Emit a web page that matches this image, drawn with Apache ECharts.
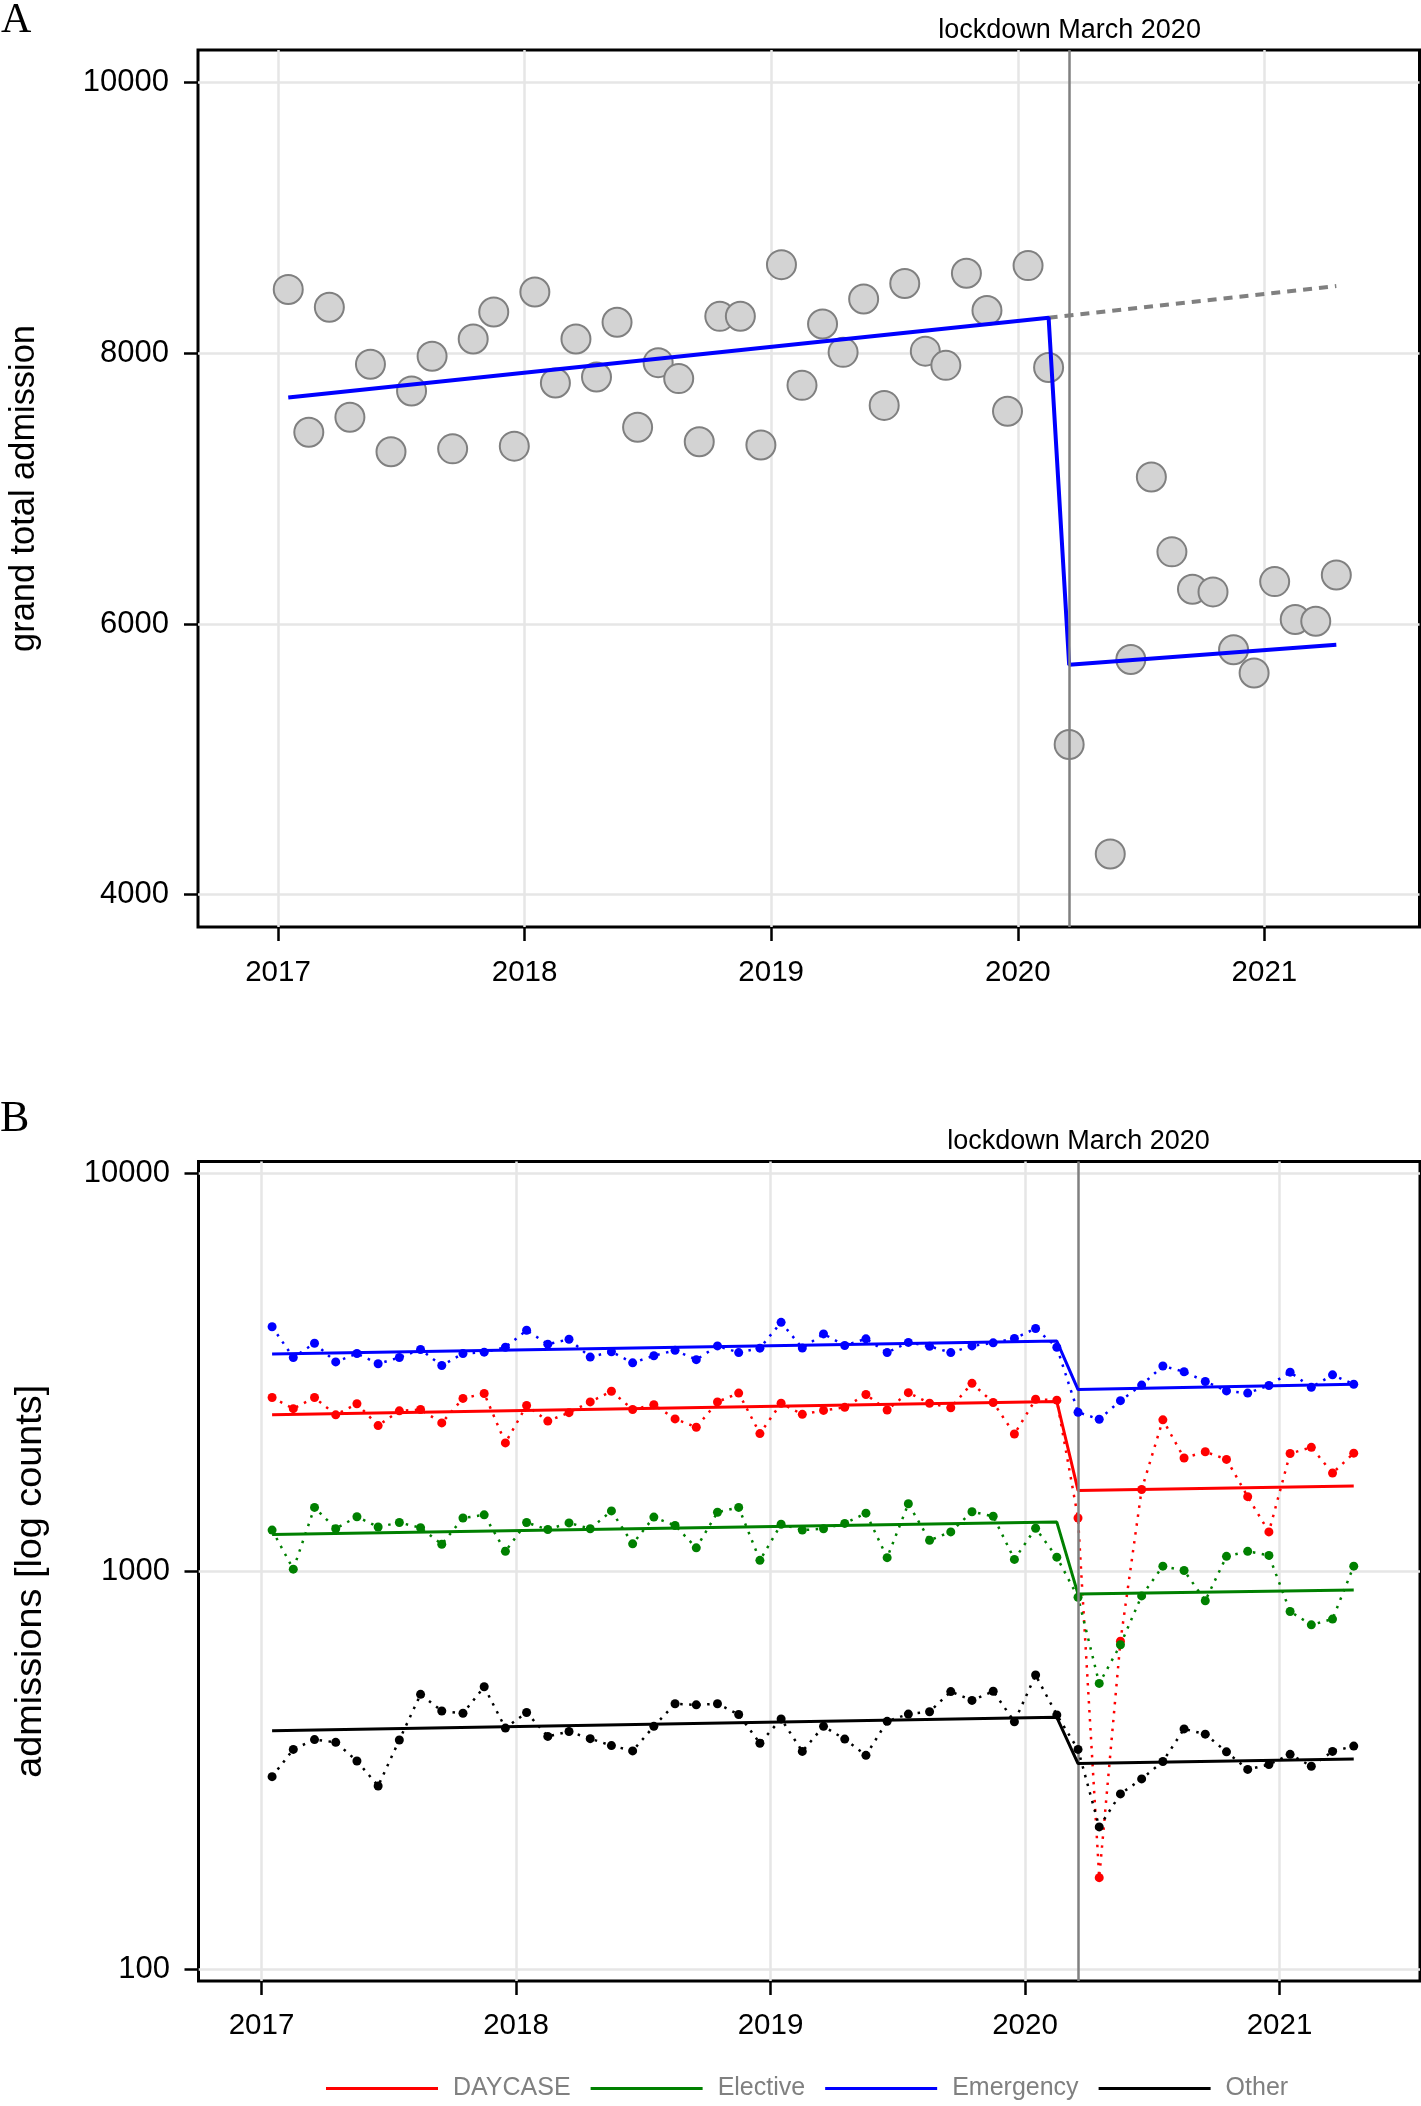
<!DOCTYPE html>
<html><head><meta charset="utf-8">
<script src="https://cdn.jsdelivr.net/npm/echarts@6/dist/echarts.min.js"></script>
<style>html,body{margin:0;padding:0;background:#fff}#c{width:1421px;height:2106px}</style>
</head><body><div id="c"></div>
<script>
// ---------------- DATA ----------------
const months = ['2017-01','2017-02','2017-03','2017-04','2017-05','2017-06','2017-07','2017-08','2017-09','2017-10','2017-11','2017-12',
  '2018-01','2018-02','2018-03','2018-04','2018-05','2018-06','2018-07','2018-08','2018-09','2018-10','2018-11','2018-12',
  '2019-01','2019-02','2019-03','2019-04','2019-05','2019-06','2019-07','2019-08','2019-09','2019-10','2019-11','2019-12',
  '2020-01','2020-02','2020-03','2020-04','2020-05','2020-06','2020-07','2020-08','2020-09','2020-10','2020-11','2020-12',
  '2021-01','2021-02','2021-03','2021-04'];

// Panel A: grand total admissions (Apr 2020 lies below the plotted range)
const totalAdmissions = [8472,7417,8340,7528,7919,7272,7722,7978,7294,8106,8305,7314,
  8453,7781,8106,7825,8229,7454,7931,7813,7347,8273,8274,7322,
  8655,7763,8217,8007,8401,7615,8516,8016,7911,8592,8316,7572,
  8648,7895,5109,null,4300,5737,7086,6533,6257,6237,5810,5638,
  6313,6033,6020,6362];
const fitMonths = ['2017-01','2020-02','2020-03','2021-04'];
const totalFit = [7673, 8263, 5698, 5846];
const counterfactualMonths = ['2020-02','2021-04'];
const totalCounterfactual = [8263, 8497];

// Panel B: admissions by type (log scale)
const daycase = [2735,2564,2735,2474,2638,2325,2532,2551,2361,2721,2799,2103,
  2611,2386,2506,2666,2835,2551,2624,2417,2302,2666,2806,2220,
  2645,2481,2538,2584,2784,2545,2813,2645,2577,2969,2658,2214,
  2707,2693,1362,170,668,1606,2404,1927,1998,1912,1541,1257,
  1978,2050,1766,1982];
const elective = [1270,1013,1448,1280,1372,1293,1327,1287,1170,1362,1387,1123,
  1327,1274,1324,1280,1419,1173,1369,1304,1146,1408,1448,1066,
  1314,1270,1280,1320,1401,1083,1479,1197,1257,1412,1376,1072,
  1284,1086,861,523,654,868,1031,1005,844,1091,1123,1097,
  793,734,759,1031];
const emergency = [4118,3447,3744,3360,3528,3325,3447,3611,3291,3528,3556,3658,
  4035,3724,3831,3456,3565,3343,3483,3593,3404,3686,3547,3639,
  4225,3640,3952,3695,3840,3547,3762,3677,3547,3686,3752,3850,
  4076,3658,2512,2411,2686,2939,3283,3175,3001,2842,2806,2932,
  3167,2901,3118,2954];
const other = [305,357,378,372,334,289,377,491,446,440,513,404,
  442,385,396,380,365,354,408,465,462,465,437,370,
  426,353,408,379,345,420,438,444,499,474,500,419,
  549,436,357,228,276,301,333,402,390,352,318,327,
  347,324,353,364];
const daycaseFit = [2474, 2673, 1598, 1639];
const electiveFit = [1238, 1330, 877, 898];
const emergencyFit = [3519, 3792, 2864, 2954];
const otherFit = [398, 430, 329, 338];

const categoryNames = ['DAYCASE','Elective','Emergency','Other'];
const categoryColors = ['#ff0000','#008000','#0000ff','#000000'];

const yearTicks = [2017, 2018, 2019, 2020, 2021];
const totalTicks = [4000, 6000, 8000, 10000];
const logTicks = [100, 1000, 10000];
const lockdownMonth = '2020-03';
const lockdownLabel = 'lockdown March 2020';

// ---------------- HELPERS ----------------
const X = m => { const p = m.split('-').map(Number); return p[0] + (p[1] - 0.5) / 12; };
const pairs = (ms, vals) => ms.map((m, i) => [X(m), vals[i]]).filter(d => d[1] != null);
const FONT = 'Liberation Sans, Arial, sans-serif';

function xAxisDef(grid, min, max, margin) {
  return {
    type: 'value', gridIndex: grid, min: min, max: max,
    axisLine: {show: false},
    axisTick: {show: true, customValues: yearTicks, length: 14, lineStyle: {color: '#000', width: 2.5}},
    axisLabel: {customValues: yearTicks, color: '#000', fontSize: 29.5, fontFamily: FONT, margin: margin,
      formatter: v => String(Math.round(v))},
    splitLine: {show: true, lineStyle: {color: '#e6e6e6', width: 2.5}}
  };
}
function lockdownMarkLine() {
  return {
    symbol: 'none', silent: true, animation: false,
    lineStyle: {color: '#808080', width: 2.5, type: 'solid'},
    label: {show: true, position: 'end', formatter: lockdownLabel, color: '#000', fontSize: 27, fontFamily: FONT, distance: 6},
    data: [{xAxis: X(lockdownMonth)}]
  };
}

const seriesB = [];
const obsB = [daycase, elective, emergency, other];
const fitB = [daycaseFit, electiveFit, emergencyFit, otherFit];
categoryNames.forEach((name, k) => {
  seriesB.push({
    name: name + ' observed', type: 'line', xAxisIndex: 1, yAxisIndex: 1,
    data: pairs(months, obsB[k]), symbol: 'circle', symbolSize: 9, showAllSymbol: true,
    itemStyle: {color: categoryColors[k]},
    lineStyle: {color: categoryColors[k], width: 2.5, type: [2.5, 6.5]},
    z: 3 + k, animation: false
  });
  seriesB.push({
    name: name, type: 'line', xAxisIndex: 1, yAxisIndex: 1,
    data: pairs(fitMonths, fitB[k]), symbol: 'none',
    itemStyle: {color: categoryColors[k]},
    lineStyle: {color: categoryColors[k], width: 3},
    z: 3 + k, animation: false
  });
});
seriesB[0].markLine = lockdownMarkLine();

const option = {
  animation: false,
  textStyle: {fontFamily: FONT},
  grid: [
    {left: 197.5, top: 50, width: 1222, height: 877, show: true, borderColor: '#000', borderWidth: 3, backgroundColor: 'transparent', containLabel: false},
    {left: 198.5, top: 1161.5, width: 1221.5, height: 819.5, show: true, borderColor: '#000', borderWidth: 3, backgroundColor: 'transparent', containLabel: false}
  ],
  xAxis: [xAxisDef(0, 2016.6757, 2021.629, 31), xAxisDef(1, 2016.7525, 2021.552, 30)],
  yAxis: [
    {
      type: 'value', gridIndex: 0, min: 3761, max: 10241,
      name: 'grand total admission', nameLocation: 'middle', nameGap: 156,
      nameTextStyle: {color: '#000', fontSize: 34.4, fontFamily: FONT},
      axisLine: {show: false},
      axisTick: {show: true, customValues: totalTicks, length: 14, lineStyle: {color: '#000', width: 2.5}},
      axisLabel: {customValues: totalTicks, color: '#000', fontSize: 31, fontFamily: FONT, margin: 29, formatter: v => String(Math.round(v))},
      splitLine: {show: true, lineStyle: {color: '#e6e6e6', width: 2.5}}
    },
    {
      type: 'log', logBase: 10, gridIndex: 1, min: 93.5, max: 10715,
      name: 'admissions [log counts]', nameLocation: 'middle', nameGap: 149,
      nameTextStyle: {color: '#000', fontSize: 37.8, fontFamily: FONT, padding: [0, 20, 0, 0]},
      axisLine: {show: false},
      axisTick: {show: true, customValues: logTicks, length: 14, lineStyle: {color: '#000', width: 2.5}},
      axisLabel: {customValues: logTicks, color: '#000', fontSize: 31, fontFamily: FONT, margin: 28.5, formatter: v => String(Math.round(v))},
      splitLine: {show: true, lineStyle: {color: '#e6e6e6', width: 2.5}}
    }
  ],
  legend: {
    data: categoryNames, left: 326, top: 2076, padding: 0, itemGap: 20, icon: 'rect', itemWidth: 112, itemHeight: 3,
    textStyle: {color: '#808080', fontSize: 25, fontFamily: FONT, padding: [0, 0, 0, 10]}
  },
  graphic: [
    {type: 'text', x: 1, y: 21, style: {text: 'A', font: '42px "Liberation Serif", "Times New Roman", serif', fill: '#000', verticalAlign: 'middle'}},
    {type: 'text', x: 0, y: 1119, style: {text: 'B', font: '44px "Liberation Serif", "Times New Roman", serif', fill: '#000', verticalAlign: 'middle'}}
  ],
  series: [
    {
      name: 'grand total', type: 'scatter', xAxisIndex: 0, yAxisIndex: 0,
      data: pairs(months, totalAdmissions), symbolSize: 29,
      itemStyle: {color: '#d3d3d3', borderColor: '#808080', borderWidth: 2, opacity: 1},
      markLine: lockdownMarkLine(), z: 2
    },
    {
      name: 'fit', type: 'line', xAxisIndex: 0, yAxisIndex: 0,
      data: pairs(fitMonths, totalFit), symbol: 'none',
      lineStyle: {color: '#0000ff', width: 4}, itemStyle: {color: '#0000ff'}, z: 4
    },
    {
      name: 'counterfactual', type: 'line', xAxisIndex: 0, yAxisIndex: 0,
      data: pairs(counterfactualMonths, totalCounterfactual), symbol: 'none',
      lineStyle: {color: '#808080', width: 4, type: [9, 7]}, itemStyle: {color: '#808080'}, z: 3
    }
  ].concat(seriesB)
};

const chart = echarts.init(document.getElementById('c'), null, {renderer: 'canvas'});
chart.setOption(option);
</script>
</body></html>
